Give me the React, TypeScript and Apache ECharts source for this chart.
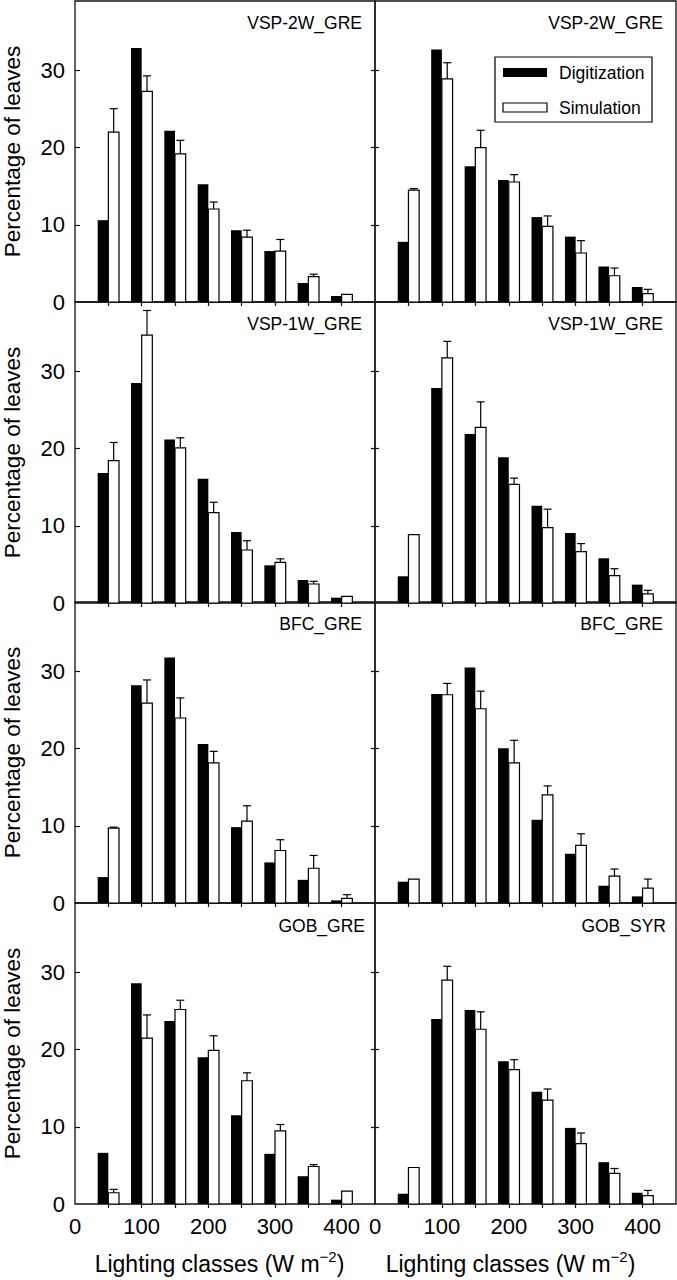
import React, { useEffect, useRef } from "react";
import * as echarts from "echarts";

const FONT = '"Liberation Sans", Arial, Helvetica, sans-serif';

// Lighting class centres (W m-2)
const classes = [50, 100, 150, 200, 250, 300, 350, 400];
const xTickLabels = [0, 100, 200, 300, 400];
const yTickLabels = [0, 10, 20, 30];

const panelTitles = [
  "VSP-2W_GRE", "VSP-2W_GRE",
  "VSP-1W_GRE", "VSP-1W_GRE",
  "BFC_GRE", "BFC_GRE",
  "GOB_GRE", "GOB_SYR",
];

// Digitization (black), Simulation (white) and simulation error (upper bar)
const digVSP2W_L = [10.6, 32.9, 22.2, 15.25, 9.3, 6.6, 2.46, 0.78];
const simVSP2W_L = [22.0, 27.3, 19.2, 12.05, 8.4, 6.6, 3.3, 1.0];
const errVSP2W_L = [3.05, 2.0, 1.75, 0.9, 0.9, 1.5, 0.3, 0];

const digVSP2W_R = [7.8, 32.7, 17.6, 15.8, 11.0, 8.47, 4.6, 1.94];
const simVSP2W_R = [14.5, 28.9, 20.0, 15.55, 9.8, 6.35, 3.4, 1.08];
const errVSP2W_R = [0.2, 2.1, 2.25, 0.95, 1.35, 1.6, 1.0, 0.56];

const digVSP1W_L = [16.85, 28.5, 21.2, 16.1, 9.2, 4.88, 2.98, 0.69];
const simVSP1W_L = [18.45, 34.7, 20.1, 11.7, 6.87, 5.27, 2.46, 0.86];
const errVSP1W_L = [2.35, 3.2, 1.3, 1.35, 1.2, 0.45, 0.35, 0];

const digVSP1W_R = [3.46, 27.86, 21.9, 18.9, 12.6, 9.07, 5.79, 2.38];
const simVSP1W_R = [8.86, 31.75, 22.76, 15.38, 9.76, 6.65, 3.54, 1.17];
const errVSP1W_R = [0, 2.15, 3.3, 0.8, 2.4, 1.05, 0.9, 0.47];

const digBFC_L = [3.36, 28.2, 31.8, 20.6, 9.83, 5.26, 3.0, 0.34];
const simBFC_L = [9.7, 25.9, 23.97, 18.15, 10.6, 6.8, 4.5, 0.6];
const errBFC_L = [0.13, 3.0, 2.6, 1.5, 2.0, 1.4, 1.66, 0.48];

const digBFC_R = [2.76, 27.07, 30.5, 20.04, 10.78, 6.38, 2.24, 0.86];
const simBFC_R = [3.1, 26.98, 25.17, 18.15, 14.0, 7.46, 3.49, 1.94];
const errBFC_R = [0, 1.47, 2.28, 2.93, 1.17, 1.51, 0.91, 1.16];

const digGOB_GRE = [6.63, 28.6, 23.7, 19.0, 11.5, 6.5, 3.6, 0.56];
const simGOB_GRE = [1.46, 21.5, 25.2, 19.9, 15.97, 9.47, 4.86, 1.68];
const errGOB_GRE = [0.44, 3.0, 1.2, 1.9, 1.03, 0.83, 0.24, 0];

const digGOB_SYR = [1.33, 23.97, 25.14, 18.5, 14.55, 9.86, 5.42, 1.46];
const simGOB_SYR = [4.73, 29.0, 22.64, 17.4, 13.47, 7.83, 3.96, 1.08];
const errGOB_SYR = [0, 1.8, 2.26, 1.3, 1.43, 1.37, 0.64, 0.68];

const digSets = [digVSP2W_L, digVSP2W_R, digVSP1W_L, digVSP1W_R, digBFC_L, digBFC_R, digGOB_GRE, digGOB_SYR];
const simSets = [simVSP2W_L, simVSP2W_R, simVSP1W_L, simVSP1W_R, simBFC_L, simBFC_R, simGOB_GRE, simGOB_SYR];
const errSets = [errVSP2W_L, errVSP2W_R, errVSP1W_L, errVSP1W_R, errBFC_L, errBFC_R, errGOB_GRE, errGOB_SYR];

const BAR_W = 16; // in W m-2 units

function buildOption() {
  const lefts = [75, 375];
  const widths = [300, 301];
  const tops = [1, 302, 602, 903];
  const H = 301;

  const grid: any[] = [];
  const xAxis: any[] = [];
  const yAxis: any[] = [];
  const series: any[] = [];
  const graphic: any[] = [];

  for (let i = 0; i < 8; i++) {
    const col = i % 2;
    const row = Math.floor(i / 2);
    grid.push({
      left: lefts[col],
      top: tops[row],
      width: widths[col],
      height: H,
      show: true,
      borderColor: "#111",
      borderWidth: 1.3,
      backgroundColor: "transparent",
      containLabel: false,
    });
    xAxis.push({
      gridIndex: i,
      type: "value",
      min: 0,
      max: 450,
      interval: 50,
      axisLine: { show: false },
      splitLine: { show: false },
      axisTick: {
        show: true,
        inside: false,
        length: 4,
        customValues: classes,
        lineStyle: { color: "#111", width: 1.2 },
      },
      axisLabel: {
        show: row === 3,
        customValues: xTickLabels,
        formatter: (v: number) => (xTickLabels.indexOf(v) >= 0 ? String(v) : ""),
        fontSize: 22,
        fontFamily: FONT,
        color: "#000",
        margin: 11,
      },
    });
    const mainIdx = yAxis.length;
    yAxis.push({
      gridIndex: i,
      type: "value",
      position: "left",
      min: 0,
      max: 39,
      interval: 10,
      axisLine: { show: false },
      splitLine: { show: false },
      axisTick: {
        show: true,
        inside: true,
        length: col === 0 ? 5 : 4,
        customValues: [10, 20, 30],
        lineStyle: { color: "#111", width: 1.2 },
      },
      axisLabel: {
        show: col === 0,
        customValues: yTickLabels,
        formatter: (v: number) => (yTickLabels.indexOf(v) >= 0 ? String(v) : ""),
        fontSize: 22,
        fontFamily: FONT,
        color: "#000",
        margin: 10,
      },
    });
    if (col === 0) {
      yAxis.push({
        gridIndex: i,
        type: "value",
        position: "right",
        min: 0,
        max: 39,
        interval: 10,
        axisLine: { show: false },
        splitLine: { show: false },
        axisTick: {
          show: true,
          inside: true,
          length: 4,
          customValues: [10, 20, 30],
          lineStyle: { color: "#111", width: 1.2 },
        },
        axisLabel: { show: false },
      });
    }

    const dig = digSets[i];
    const sim = simSets[i];
    const err = errSets[i];

    series.push({
      type: "custom",
      name: "Digitization",
      xAxisIndex: i,
      yAxisIndex: mainIdx,
      data: classes.map((c, k) => [c, dig[k]]),
      renderItem: (params: any, api: any) => {
        const x = api.value(0);
        const v = api.value(1);
        const top = api.coord([x, v]);
        const base = api.coord([x, 0]);
        const w = api.size([BAR_W, 0])[0];
        return {
          type: "rect",
          shape: { x: top[0] - w, y: top[1], width: w, height: base[1] - top[1] },
          style: { fill: "#000" },
        };
      },
    });
    series.push({
      type: "custom",
      name: "Simulation",
      xAxisIndex: i,
      yAxisIndex: mainIdx,
      data: classes.map((c, k) => [c, sim[k], err[k]]),
      renderItem: (params: any, api: any) => {
        const x = api.value(0);
        const v = api.value(1);
        const e = api.value(2);
        const top = api.coord([x, v]);
        const base = api.coord([x, 0]);
        const w = api.size([BAR_W, 0])[0];
        const children: any[] = [
          {
            type: "rect",
            shape: { x: top[0], y: top[1], width: w, height: base[1] - top[1] },
            style: { fill: "#fff", stroke: "#000", lineWidth: 1.2 },
          },
        ];
        if (e > 0) {
          const et = api.coord([x, v + e]);
          const cx = top[0] + w / 2;
          children.push({
            type: "line",
            shape: { x1: cx, y1: top[1], x2: cx, y2: et[1] },
            style: { stroke: "#000", lineWidth: 1.2 },
          });
          children.push({
            type: "line",
            shape: { x1: cx - 4, y1: et[1], x2: cx + 4, y2: et[1] },
            style: { stroke: "#000", lineWidth: 1.2 },
          });
        }
        return { type: "group", children };
      },
    });

    // Panel title
    const isLast = row === 3;
    graphic.push({
      type: "text",
      x: col === 0 ? (isLast ? 365 : 362) : isLast ? 666 : 663,
      y: tops[row] + (isLast ? 22.7 : 21.5),
      z: 100,
      style: {
        text: panelTitles[i],
        fontSize: 17.5,
        fontFamily: FONT,
        fill: "#000",
        align: "right",
        verticalAlign: "middle",
      },
    });
  }

  // Y axis titles
  for (let r = 0; r < 4; r++) {
    graphic.push({
      type: "text",
      x: 12.5,
      y: tops[r] + H / 2,
      rotation: Math.PI / 2,
      z: 100,
      style: {
        text: "Percentage of leaves",
        fontSize: 22.5,
        fontFamily: FONT,
        fill: "#000",
        align: "center",
        verticalAlign: "middle",
      },
    });
  }

  // X axis titles
  [219.5, 510.5].forEach((cx) => {
    graphic.push({
      type: "text",
      x: cx,
      y: 1264,
      z: 100,
      style: {
        text: "{a|Lighting classes (W m}{b|\u22122}{a|)}",
        fontFamily: FONT,
        fill: "#000",
        align: "center",
        verticalAlign: "middle",
        rich: {
          a: { fontSize: 23, lineHeight: 30, fontFamily: FONT, fill: "#000" },
          b: { fontSize: 15, lineHeight: 10, verticalAlign: "top", fontFamily: FONT, fill: "#000" },
        },
      },
    });
  });

  // Legend box (panel 1 right)
  graphic.push(
    {
      type: "rect",
      z: 100,
      shape: { x: 495, y: 57, width: 157, height: 65 },
      style: { fill: "#fff", stroke: "#000", lineWidth: 1.2 },
    },
    {
      type: "rect",
      z: 101,
      shape: { x: 503, y: 68, width: 44, height: 9 },
      style: { fill: "#000" },
    },
    {
      type: "text",
      z: 101,
      x: 559,
      y: 73,
      style: { text: "Digitization", fontSize: 17.5, fontFamily: FONT, fill: "#000", align: "left", verticalAlign: "middle" },
    },
    {
      type: "rect",
      z: 101,
      shape: { x: 503, y: 103, width: 44, height: 9 },
      style: { fill: "#fff", stroke: "#000", lineWidth: 1.2 },
    },
    {
      type: "text",
      z: 101,
      x: 559,
      y: 108,
      style: { text: "Simulation", fontSize: 17.5, fontFamily: FONT, fill: "#000", align: "left", verticalAlign: "middle" },
    }
  );

  return {
    animation: false,
    backgroundColor: "#fff",
    grid,
    xAxis,
    yAxis,
    series,
    graphic,
  };
}

export default function App() {
  const ref = useRef<HTMLDivElement>(null);
  useEffect(() => {
    if (!ref.current) return;
    const chart = echarts.init(ref.current, undefined, { renderer: "svg" });
    chart.setOption(buildOption() as any);
    return () => chart.dispose();
  }, []);
  return (
    <div
      ref={ref}
      style={{ position: "absolute", left: 0, top: 0, width: 677, height: 1280 }}
    />
  );
}
